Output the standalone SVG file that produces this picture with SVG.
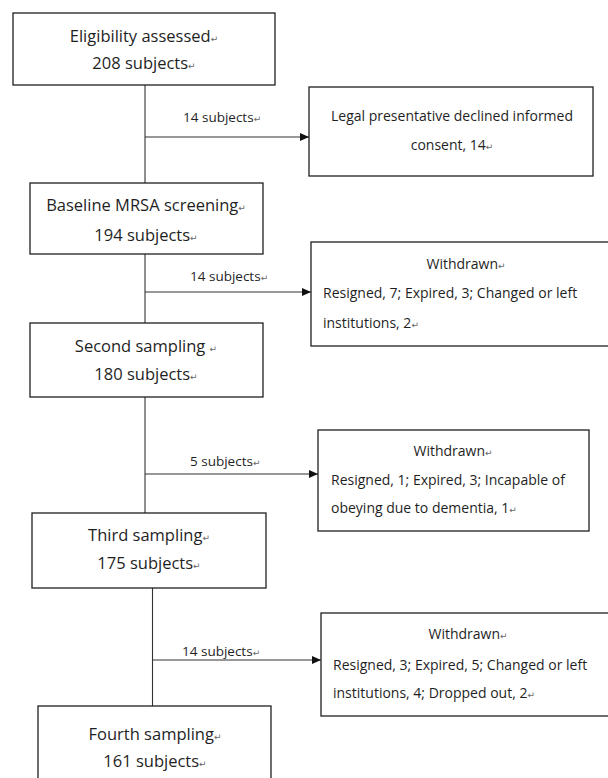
<svg xmlns="http://www.w3.org/2000/svg" width="608" height="778" viewBox="0 0 608 778">
<defs>
<style>
.box{fill:#fff;stroke:#1f1f1f;stroke-width:1.3}
.main{font-family:"Open Sans","Liberation Sans",sans-serif;font-size:16.5px;fill:#1f1f1f;text-anchor:middle}
.side{font-family:"Open Sans","Liberation Sans",sans-serif;font-size:14px;fill:#1f1f1f}
.mid{text-anchor:middle}
.lbl{font-family:"Open Sans","Liberation Sans",sans-serif;font-size:13.5px;fill:#1f1f1f}
.ret{font-family:"DejaVu Sans",sans-serif;font-size:9px;fill:#666}
.conn{stroke:#333;stroke-width:1.1;fill:none}
</style>
<marker id="ah" markerWidth="10" markerHeight="8" refX="9" refY="4" orient="auto" markerUnits="userSpaceOnUse">
<path d="M0,0 L9,4 L0,8 z" fill="#111"/>
</marker>
</defs>
<rect width="608" height="778" fill="#fff"/>

<g id="connectors">
<path class="conn" d="M145 85 V183"/>
<path class="conn" d="M145 137 H309" marker-end="url(#ah)"/>
<path class="conn" d="M145 254 V323"/>
<path class="conn" d="M145 292 H311" marker-end="url(#ah)"/>
<path class="conn" d="M145 397 V513"/>
<path class="conn" d="M145 474 H318" marker-end="url(#ah)"/>
<path class="conn" d="M152.5 588 V706"/>
<path class="conn" d="M152.5 660 H321" marker-end="url(#ah)"/>
<text class="lbl" x="183" y="122">14 subjects<tspan class="ret">↵</tspan></text>
<text class="lbl" x="190" y="281">14 subjects<tspan class="ret">↵</tspan></text>
<text class="lbl" x="190" y="466">5 subjects<tspan class="ret">↵</tspan></text>
<text class="lbl" x="182" y="656">14 subjects<tspan class="ret">↵</tspan></text>
</g>

<g id="eligibility">
<rect class="box" x="13" y="13" width="262" height="72"/>
<text class="main" x="144" y="42">Eligibility assessed<tspan class="ret">↵</tspan></text>
<text class="main" x="144" y="69">208 subjects<tspan class="ret">↵</tspan></text>
</g>

<g id="declined">
<rect class="box" x="309" y="87" width="284" height="89"/>
<text class="side mid" x="452" y="121">Legal presentative declined informed</text>
<text class="side mid" x="452" y="150">consent, 14<tspan class="ret">↵</tspan></text>
</g>

<g id="baseline">
<rect class="box" x="30" y="183" width="233" height="71"/>
<text class="main" x="146" y="211">Baseline MRSA screening<tspan class="ret">↵</tspan></text>
<text class="main" x="146" y="241">194 subjects<tspan class="ret">↵</tspan></text>
</g>

<g id="withdrawn1">
<rect class="box" x="311" y="242" width="310" height="104"/>
<text class="side mid" x="466" y="269">Withdrawn<tspan class="ret">↵</tspan></text>
<text class="side" x="323" y="298">Resigned, 7; Expired, 3; Changed or left</text>
<text class="side" x="323" y="328">institutions, 2<tspan class="ret">↵</tspan></text>
</g>

<g id="second">
<rect class="box" x="30" y="323" width="233" height="74"/>
<text class="main" x="146" y="352">Second sampling  <tspan class="ret">↵</tspan></text>
<text class="main" x="146" y="380">180 subjects<tspan class="ret">↵</tspan></text>
</g>

<g id="withdrawn2">
<rect class="box" x="318" y="430" width="271" height="101"/>
<text class="side mid" x="453" y="456">Withdrawn<tspan class="ret">↵</tspan></text>
<text class="side" x="331" y="485">Resigned, 1; Expired, 3; Incapable of</text>
<text class="side" x="331" y="513">obeying due to dementia, 1<tspan class="ret">↵</tspan></text>
</g>

<g id="third">
<rect class="box" x="32" y="513" width="234" height="75"/>
<text class="main" x="149" y="541">Third sampling<tspan class="ret">↵</tspan></text>
<text class="main" x="149" y="569">175 subjects<tspan class="ret">↵</tspan></text>
</g>

<g id="withdrawn3">
<rect class="box" x="321" y="613" width="300" height="103"/>
<text class="side mid" x="468" y="639">Withdrawn<tspan class="ret">↵</tspan></text>
<text class="side" x="333" y="670">Resigned, 3; Expired, 5; Changed or left</text>
<text class="side" x="333" y="698">institutions, 4; Dropped out, 2<tspan class="ret">↵</tspan></text>
</g>

<g id="fourth">
<rect class="box" x="38" y="706" width="233" height="90"/>
<text class="main" x="155" y="740">Fourth sampling<tspan class="ret">↵</tspan></text>
<text class="main" x="155" y="767">161 subjects<tspan class="ret">↵</tspan></text>
</g>
</svg>
